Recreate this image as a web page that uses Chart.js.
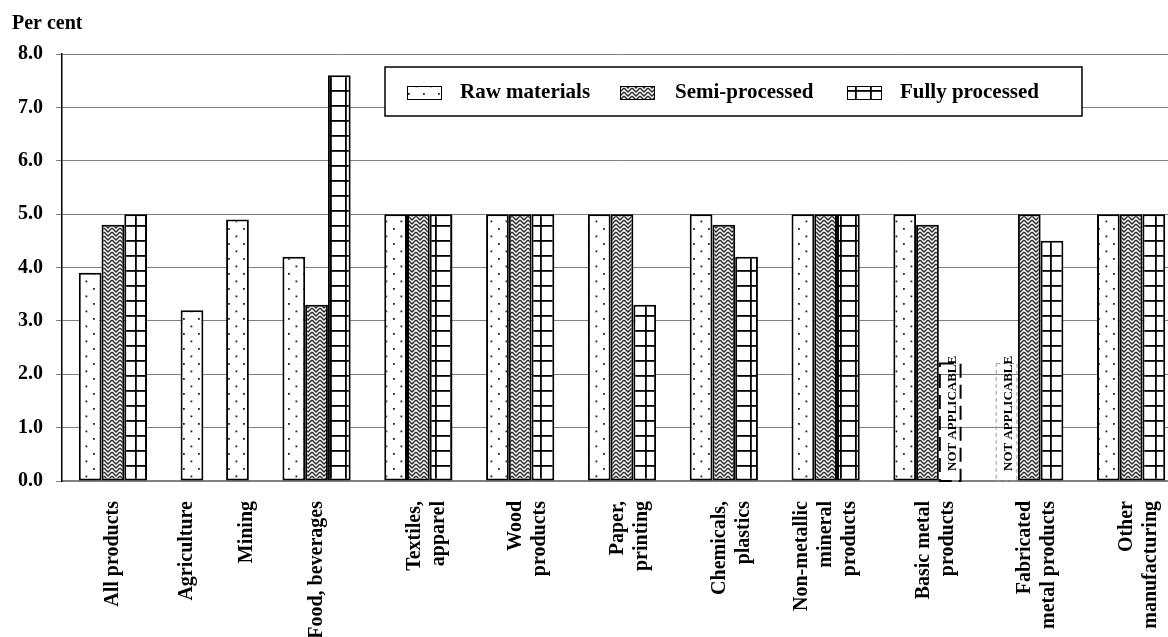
<!DOCTYPE html>
<html><head><meta charset="utf-8">
<script src="https://cdn.jsdelivr.net/npm/chart.js@4/dist/chart.umd.min.js"></script>
<style>
html,body{margin:0;padding:0;background:#fff;overflow:hidden}
#clip{width:1168px;height:637px;overflow:hidden;position:relative}
#wrap{width:1182px;height:637px;position:absolute;left:0;top:0}
canvas{display:block}
</style>
</head><body>
<div id="clip"><div id="wrap"><canvas id="c" width="1182" height="637" style="width:1182px;height:637px"></canvas></div></div>
<script>
// ---- data ----
const categories = ["All products","Agriculture / Mining","Food, beverages","Textiles, apparel","Wood products","Paper, printing","Chemicals, plastics","Non-metallic mineral products","Basic metal products","Fabricated metal products","Other manufacturing"];
const tickLabels = [["All products"],["Agriculture","Mining"],["Food, beverages"],["Textiles,","apparel"],["Wood","products"],["Paper,","printing"],["Chemicals,","plastics"],["Non-metallic","mineral","products"],["Basic metal","products"],["Fabricated","metal products"],["Other","manufacturing"]];
const seriesNames = ["Raw materials","Semi-processed","Fully processed"];
const rawMaterials   = [3.9, 3.2, 4.2, 5.0, 5.0, 5.0, 5.0, 5.0, 5.0, null, 5.0];
const semiProcessed  = [4.8, null, 3.3, 5.0, 5.0, 5.0, 4.8, 5.0, 4.8, 5.0, 5.0];
const fullyProcessed = [5.0, null, 7.6, 5.0, 5.0, 3.3, 4.2, 5.0, null, 4.5, 5.0];
const miningRawMaterials = 4.9;   // Mining (raw materials) sits in the third slot of the shared group
const miningCategory = 1;
const notApplicable = [{category: 8, series: 2, style: "bold"}, {category: 9, series: 0, style: "light"}];
const notApplicableHeight = 2.2;
const yAxisTitle = "Per cent";
const naText = "NOT APPLICABLE";

// ---- patterns ----
const FONT = "'Liberation Serif', 'Times New Roman', serif";
function makeTile(w, h, draw) {
  const t = document.createElement('canvas'); t.width = w; t.height = h;
  const c = t.getContext('2d'); c.fillStyle = '#fff'; c.fillRect(0, 0, w, h); draw(c);
  return document.getElementById('c').getContext('2d').createPattern(t, 'repeat');
}
const dotsPattern = makeTile(15, 15, c => {
  c.fillStyle = '#222';
  c.fillRect(3, 3, 1.8, 1.8); c.fillRect(10.5, 10.5, 1.8, 1.8);
});
const zigzagPattern = makeTile(8, 8, c => {
  c.strokeStyle = '#2a2a2a'; c.lineWidth = 1.5;
  for (let y0 = -4; y0 <= 8; y0 += 4) {
    c.beginPath(); c.moveTo(0, y0); c.lineTo(4, y0 + 4); c.lineTo(8, y0); c.stroke();
  }
});
const gridPattern = makeTile(15, 15, c => {
  c.fillStyle = '#000'; c.fillRect(0, 0, 15, 1.8); c.fillRect(0, 0, 1.8, 15);
});
const seriesPatterns = [dotsPattern, zigzagPattern, gridPattern];

// tick label lines are placed on a fine 4px slot grid (line height 4px, label offset -28px)
// slot s sits at tick + (-28 + 4*s) px
function labelSlots(n, idx) {
  if (idx === miningCategory) return [0, 15];
  if (n === 1) return [7];
  if (n === 2) return [6, 12];
  return [1, 7, 13];
}
function padLabel(lines, idx) {
  const slots = labelSlots(lines.length, idx);
  const out = [];
  for (let s = 0; s <= Math.max(...slots); s++) out.push("");
  slots.forEach((s, k) => { out[s] = lines[k]; });
  return out;
}

const naPlugin = {
  id: 'naPlugin',
  afterDatasetsDraw(chart) {
    const ctx = chart.ctx, ys = chart.scales.y;
    notApplicable.forEach(na => {
      const el = chart.getDatasetMeta(na.series).data[na.category];
      const w = el.width, cx = el.x;
      const top = ys.getPixelForValue(notApplicableHeight), bottom = ys.getPixelForValue(0);
      ctx.save();
      if (na.style === 'bold') { ctx.strokeStyle = '#000'; ctx.lineWidth = 2; ctx.setLineDash([14, 7]); }
      else { ctx.strokeStyle = '#999'; ctx.lineWidth = 1; ctx.setLineDash([4, 3]); }
      ctx.strokeRect(cx - w / 2 + 1, top, w - 2, bottom - top);
      ctx.setLineDash([]);
      ctx.translate(cx + 2, bottom - 10);
      ctx.rotate(-Math.PI / 2);
      ctx.font = "bold 13px " + FONT; ctx.fillStyle = '#000';
      ctx.textAlign = 'left'; ctx.textBaseline = 'middle';
      ctx.fillText(naText, 0, 0);
      ctx.restore();
    });
  }
};

const legendPlugin = {
  id: 'boxLegend',
  afterDraw(chart) {
    const ctx = chart.ctx;
    const bx = 385, by = 67, bw = 697, bh = 49;
    ctx.save();
    ctx.fillStyle = '#fff'; ctx.fillRect(bx, by, bw, bh);
    ctx.strokeStyle = '#000'; ctx.lineWidth = 1.5; ctx.strokeRect(bx, by, bw, bh);
    const swX = [407, 620, 847], txX = [460, 675, 900];
    seriesNames.forEach((name, i) => {
      ctx.fillStyle = seriesPatterns[i];
      ctx.fillRect(swX[i], 86, 34, 13);
      ctx.strokeStyle = '#000'; ctx.lineWidth = 1; ctx.strokeRect(swX[i] + 0.5, 86.5, 34, 13);
      ctx.fillStyle = '#000'; ctx.font = "bold 21px " + FONT;
      ctx.textAlign = 'left'; ctx.textBaseline = 'middle';
      ctx.fillText(name, txX[i], 93);
    });
    ctx.restore();
  }
};

const fullyData = fullyProcessed.map((v, i) => i === miningCategory ? miningRawMaterials : v);
const seriesData = [rawMaterials, semiProcessed, fullyData];

new Chart(document.getElementById('c'), {
  type: 'bar',
  data: {
    labels: categories,
    datasets: seriesNames.map((name, i) => ({
      label: name,
      data: seriesData[i],
      backgroundColor: (i === 2) ? (c => c.dataIndex === miningCategory ? dotsPattern : gridPattern) : seriesPatterns[i],
      borderColor: '#000',
      borderWidth: 2,
      borderSkipped: false,
      categoryPercentage: 0.67,
      barPercentage: 1.0
    }))
  },
  options: {
    responsive: false,
    maintainAspectRatio: false,
    animation: false,
    devicePixelRatio: 1,
    layout: { padding: { left: 12, right: 0, top: 0, bottom: 0 } },
    plugins: {
      legend: { display: false },
      tooltip: { enabled: false },
      title: {
        display: true, text: yAxisTitle, align: 'start', color: '#000',
        font: { family: FONT, size: 20, weight: 'bold', lineHeight: 1.2 },
        padding: { top: 12, bottom: 18 }
      }
    },
    scales: {
      x: {
        grid: { display: false, drawTicks: false },
        border: { display: true, color: '#808080', width: 2 },
        ticks: {
          autoSkip: false, minRotation: 90, maxRotation: 90, padding: 20, labelOffset: -28,
          color: '#000',
          font: { family: FONT, size: 20, weight: 'bold', lineHeight: 0.2 },
          callback: (v, i) => padLabel(tickLabels[i], i)
        },
        afterFit: s => { s.height = 156; s.paddingLeft = 0; s.paddingRight = 0; }
      },
      y: {
        min: 0, max: 8,
        grid: { color: '#808080', lineWidth: 1, tickLength: 6, tickColor: '#808080' },
        border: { display: true, color: '#000', width: 1.5 },
        ticks: {
          stepSize: 1, padding: 13, color: '#000',
          font: { family: FONT, size: 20, weight: 'bold' },
          callback: v => v.toFixed(1)
        },
        afterFit: s => { s.width = 50; }
      }
    }
  },
  plugins: [naPlugin, legendPlugin]
});
</script>
</body></html>
